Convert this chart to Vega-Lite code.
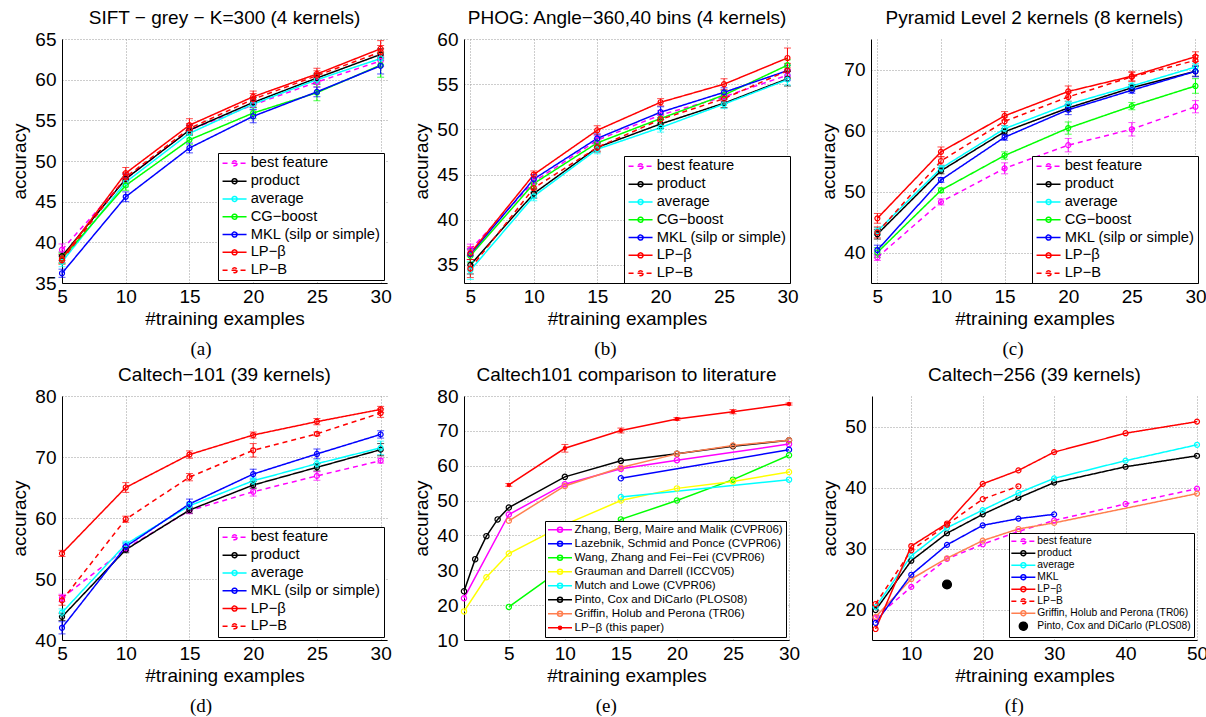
{
"$schema": "https://vega.github.io/schema/vega-lite/v6.json",
"padding": {"left": 10, "top": 9, "right": 2, "bottom": 2},
"datasets": {
"a": [
{"m":"best feature","x":5,"y":39.1,"e":0.7},{"m":"best feature","x":10,"y":47.8,"e":0.6},{"m":"best feature","x":15,"y":53.8,"e":0.6},{"m":"best feature","x":20,"y":56.9,"e":0.6},{"m":"best feature","x":25,"y":59.7,"e":0.6},{"m":"best feature","x":30,"y":62.3,"e":0.7},
{"m":"product","x":5,"y":38.3,"e":0.5},{"m":"product","x":10,"y":47.8,"e":0.6},{"m":"product","x":15,"y":53.8,"e":0.6},{"m":"product","x":20,"y":57.2,"e":0.6},{"m":"product","x":25,"y":60.2,"e":0.6},{"m":"product","x":30,"y":63.1,"e":0.7},
{"m":"average","x":5,"y":37.6,"e":0.6},{"m":"average","x":10,"y":47.4,"e":0.6},{"m":"average","x":15,"y":53.4,"e":0.6},{"m":"average","x":20,"y":57.0,"e":0.6},{"m":"average","x":25,"y":60.0,"e":0.6},{"m":"average","x":30,"y":62.6,"e":0.8},
{"m":"CG−boost","x":5,"y":38.0,"e":0.6},{"m":"CG−boost","x":10,"y":47.0,"e":0.6},{"m":"CG−boost","x":15,"y":52.6,"e":0.6},{"m":"CG−boost","x":20,"y":55.9,"e":0.7},{"m":"CG−boost","x":25,"y":58.4,"e":1.0},{"m":"CG−boost","x":30,"y":61.8,"e":1.5},
{"m":"MKL (silp or simple)","x":5,"y":36.2,"e":0.5},{"m":"MKL (silp or simple)","x":10,"y":45.6,"e":0.6},{"m":"MKL (silp or simple)","x":15,"y":51.6,"e":0.6},{"m":"MKL (silp or simple)","x":20,"y":55.5,"e":0.8},{"m":"MKL (silp or simple)","x":25,"y":58.5,"e":0.6},{"m":"MKL (silp or simple)","x":30,"y":61.7,"e":1.0},
{"m":"LP−B","x":5,"y":37.8,"e":0.5},{"m":"LP−B","x":10,"y":48.0,"e":0.6},{"m":"LP−B","x":15,"y":54.0,"e":0.6},{"m":"LP−B","x":20,"y":57.6,"e":0.7},{"m":"LP−B","x":25,"y":60.5,"e":0.6},{"m":"LP−B","x":30,"y":63.4,"e":0.8},
{"m":"LP−β","x":5,"y":38.0,"e":0.5},{"m":"LP−β","x":10,"y":48.5,"e":0.7},{"m":"LP−β","x":15,"y":54.4,"e":0.8},{"m":"LP−β","x":20,"y":57.9,"e":0.7},{"m":"LP−β","x":25,"y":60.7,"e":0.7},{"m":"LP−β","x":30,"y":63.8,"e":1.0}
],
"b": [
{"m":"best feature","x":5,"y":36.7,"e":0.6},{"m":"best feature","x":10,"y":44.2,"e":0.5},{"m":"best feature","x":15,"y":48.8,"e":0.5},{"m":"best feature","x":20,"y":51.6,"e":0.5},{"m":"best feature","x":25,"y":53.6,"e":0.5},{"m":"best feature","x":30,"y":56.0,"e":0.6},
{"m":"product","x":5,"y":35.0,"e":1.0},{"m":"product","x":10,"y":42.9,"e":0.5},{"m":"product","x":15,"y":48.0,"e":0.5},{"m":"product","x":20,"y":50.6,"e":0.5},{"m":"product","x":25,"y":52.9,"e":0.5},{"m":"product","x":30,"y":55.6,"e":0.8},
{"m":"average","x":5,"y":34.4,"e":1.0},{"m":"average","x":10,"y":42.6,"e":0.5},{"m":"average","x":15,"y":47.8,"e":0.5},{"m":"average","x":20,"y":50.2,"e":0.5},{"m":"average","x":25,"y":52.8,"e":0.5},{"m":"average","x":30,"y":55.5,"e":0.6},
{"m":"CG−boost","x":5,"y":36.0,"e":0.7},{"m":"CG−boost","x":10,"y":44.0,"e":0.5},{"m":"CG−boost","x":15,"y":48.5,"e":0.5},{"m":"CG−boost","x":20,"y":51.2,"e":0.5},{"m":"CG−boost","x":25,"y":53.8,"e":0.5},{"m":"CG−boost","x":30,"y":57.1,"e":0.6},
{"m":"MKL (silp or simple)","x":5,"y":36.2,"e":0.6},{"m":"MKL (silp or simple)","x":10,"y":44.5,"e":0.5},{"m":"MKL (silp or simple)","x":15,"y":49.0,"e":0.5},{"m":"MKL (silp or simple)","x":20,"y":51.9,"e":0.6},{"m":"MKL (silp or simple)","x":25,"y":54.1,"e":0.5},{"m":"MKL (silp or simple)","x":30,"y":56.5,"e":0.6},
{"m":"LP−B","x":5,"y":34.6,"e":1.0},{"m":"LP−B","x":10,"y":43.5,"e":0.5},{"m":"LP−B","x":15,"y":48.0,"e":0.4},{"m":"LP−B","x":20,"y":51.1,"e":0.5},{"m":"LP−B","x":25,"y":53.4,"e":0.5},{"m":"LP−B","x":30,"y":56.5,"e":0.8},
{"m":"LP−β","x":5,"y":36.3,"e":0.7},{"m":"LP−β","x":10,"y":45.0,"e":0.4},{"m":"LP−β","x":15,"y":49.9,"e":0.5},{"m":"LP−β","x":20,"y":53.0,"e":0.4},{"m":"LP−β","x":25,"y":55.0,"e":0.6},{"m":"LP−β","x":30,"y":57.9,"e":1.1}
],
"c": [
{"m":"best feature","x":5,"y":39.2,"e":0.5},{"m":"best feature","x":10,"y":48.3,"e":0.5},{"m":"best feature","x":15,"y":53.8,"e":0.9},{"m":"best feature","x":20,"y":57.6,"e":1.1},{"m":"best feature","x":25,"y":60.2,"e":1.1},{"m":"best feature","x":30,"y":63.9,"e":1.0},
{"m":"product","x":5,"y":43.0,"e":0.8},{"m":"product","x":10,"y":53.4,"e":0.5},{"m":"product","x":15,"y":59.8,"e":0.5},{"m":"product","x":20,"y":63.7,"e":0.6},{"m":"product","x":25,"y":67.0,"e":0.5},{"m":"product","x":30,"y":69.7,"e":0.8},
{"m":"average","x":5,"y":43.5,"e":0.6},{"m":"average","x":10,"y":53.8,"e":0.5},{"m":"average","x":15,"y":60.3,"e":0.5},{"m":"average","x":20,"y":64.3,"e":0.5},{"m":"average","x":25,"y":67.3,"e":0.5},{"m":"average","x":30,"y":70.4,"e":0.6},
{"m":"CG−boost","x":5,"y":40.0,"e":0.8},{"m":"CG−boost","x":10,"y":50.2,"e":0.4},{"m":"CG−boost","x":15,"y":55.9,"e":0.6},{"m":"CG−boost","x":20,"y":60.4,"e":1.0},{"m":"CG−boost","x":25,"y":64.0,"e":0.6},{"m":"CG−boost","x":30,"y":67.3,"e":1.2},
{"m":"MKL (silp or simple)","x":5,"y":40.4,"e":0.8},{"m":"MKL (silp or simple)","x":10,"y":51.9,"e":0.4},{"m":"MKL (silp or simple)","x":15,"y":58.9,"e":0.5},{"m":"MKL (silp or simple)","x":20,"y":63.4,"e":0.8},{"m":"MKL (silp or simple)","x":25,"y":66.6,"e":0.5},{"m":"MKL (silp or simple)","x":30,"y":69.7,"e":0.9},
{"m":"LP−B","x":5,"y":43.3,"e":0.9},{"m":"LP−B","x":10,"y":55.0,"e":0.7},{"m":"LP−B","x":15,"y":61.5,"e":0.7},{"m":"LP−B","x":20,"y":65.5,"e":0.7},{"m":"LP−B","x":25,"y":68.8,"e":0.7},{"m":"LP−B","x":30,"y":71.5,"e":0.8},
{"m":"LP−β","x":5,"y":45.6,"e":0.8},{"m":"LP−β","x":10,"y":56.5,"e":0.8},{"m":"LP−β","x":15,"y":62.4,"e":0.7},{"m":"LP−β","x":20,"y":66.4,"e":0.9},{"m":"LP−β","x":25,"y":68.9,"e":0.8},{"m":"LP−β","x":30,"y":72.1,"e":0.8}
],
"d": [
{"m":"best feature","x":5,"y":46.9,"e":0.6},{"m":"best feature","x":10,"y":55.0,"e":0.5},{"m":"best feature","x":15,"y":61.2,"e":0.5},{"m":"best feature","x":20,"y":64.3,"e":0.7},{"m":"best feature","x":25,"y":66.9,"e":0.7},{"m":"best feature","x":30,"y":69.4,"e":0.4},
{"m":"product","x":5,"y":43.8,"e":0.6},{"m":"product","x":10,"y":54.8,"e":0.5},{"m":"product","x":15,"y":61.3,"e":0.5},{"m":"product","x":20,"y":65.4,"e":0.6},{"m":"product","x":25,"y":68.3,"e":0.6},{"m":"product","x":30,"y":71.2,"e":1.0},
{"m":"average","x":5,"y":44.5,"e":0.6},{"m":"average","x":10,"y":55.7,"e":0.5},{"m":"average","x":15,"y":62.0,"e":0.6},{"m":"average","x":20,"y":66.1,"e":0.6},{"m":"average","x":25,"y":68.9,"e":0.6},{"m":"average","x":30,"y":71.5,"e":1.1},
{"m":"MKL (silp or simple)","x":5,"y":42.0,"e":1.0},{"m":"MKL (silp or simple)","x":10,"y":55.3,"e":0.6},{"m":"MKL (silp or simple)","x":15,"y":62.3,"e":0.8},{"m":"MKL (silp or simple)","x":20,"y":67.2,"e":0.8},{"m":"MKL (silp or simple)","x":25,"y":70.5,"e":0.8},{"m":"MKL (silp or simple)","x":30,"y":73.7,"e":0.6},
{"m":"LP−B","x":5,"y":46.5,"e":0.8},{"m":"LP−B","x":10,"y":59.8,"e":0.5},{"m":"LP−B","x":15,"y":66.7,"e":0.6},{"m":"LP−B","x":20,"y":71.1,"e":1.1},{"m":"LP−B","x":25,"y":73.8,"e":0.3},{"m":"LP−B","x":30,"y":77.2,"e":0.7},
{"m":"LP−β","x":5,"y":54.2,"e":0.5},{"m":"LP−β","x":10,"y":65.0,"e":0.8},{"m":"LP−β","x":15,"y":70.4,"e":0.6},{"m":"LP−β","x":20,"y":73.6,"e":0.5},{"m":"LP−β","x":25,"y":75.8,"e":0.5},{"m":"LP−β","x":30,"y":77.8,"e":0.5}
],
"e": [
{"m":"Zhang, Berg, Maire and Malik (CVPR06)","x":1,"y":22.0},{"m":"Zhang, Berg, Maire and Malik (CVPR06)","x":5,"y":46.0},{"m":"Zhang, Berg, Maire and Malik (CVPR06)","x":10,"y":54.7},{"m":"Zhang, Berg, Maire and Malik (CVPR06)","x":15,"y":59.1},{"m":"Zhang, Berg, Maire and Malik (CVPR06)","x":20,"y":61.6},{"m":"Zhang, Berg, Maire and Malik (CVPR06)","x":30,"y":66.2},
{"m":"Lazebnik, Schmid and Ponce (CVPR06)","x":15,"y":56.4},{"m":"Lazebnik, Schmid and Ponce (CVPR06)","x":30,"y":64.6},
{"m":"Wang, Zhang and Fei−Fei (CVPR06)","x":5,"y":19.5},{"m":"Wang, Zhang and Fei−Fei (CVPR06)","x":10,"y":31.0},{"m":"Wang, Zhang and Fei−Fei (CVPR06)","x":15,"y":44.6},{"m":"Wang, Zhang and Fei−Fei (CVPR06)","x":20,"y":50.0},{"m":"Wang, Zhang and Fei−Fei (CVPR06)","x":25,"y":56.0},{"m":"Wang, Zhang and Fei−Fei (CVPR06)","x":30,"y":63.0},
{"m":"Grauman and Darrell (ICCV05)","x":1,"y":18.2},{"m":"Grauman and Darrell (ICCV05)","x":3,"y":28.0},{"m":"Grauman and Darrell (ICCV05)","x":5,"y":34.8},{"m":"Grauman and Darrell (ICCV05)","x":10,"y":43.1},{"m":"Grauman and Darrell (ICCV05)","x":15,"y":50.0},{"m":"Grauman and Darrell (ICCV05)","x":20,"y":53.5},{"m":"Grauman and Darrell (ICCV05)","x":25,"y":55.5},{"m":"Grauman and Darrell (ICCV05)","x":30,"y":58.2},
{"m":"Mutch and Lowe (CVPR06)","x":15,"y":51.0},{"m":"Mutch and Lowe (CVPR06)","x":30,"y":56.0},
{"m":"Pinto, Cox and DiCarlo (PLOS08)","x":1,"y":24.0},{"m":"Pinto, Cox and DiCarlo (PLOS08)","x":2,"y":33.2},{"m":"Pinto, Cox and DiCarlo (PLOS08)","x":3,"y":39.8},{"m":"Pinto, Cox and DiCarlo (PLOS08)","x":4,"y":44.6},{"m":"Pinto, Cox and DiCarlo (PLOS08)","x":5,"y":48.0},{"m":"Pinto, Cox and DiCarlo (PLOS08)","x":10,"y":56.8},{"m":"Pinto, Cox and DiCarlo (PLOS08)","x":15,"y":61.4},{"m":"Pinto, Cox and DiCarlo (PLOS08)","x":20,"y":63.4},{"m":"Pinto, Cox and DiCarlo (PLOS08)","x":25,"y":65.6},{"m":"Pinto, Cox and DiCarlo (PLOS08)","x":30,"y":67.3},
{"m":"Griffin, Holub and Perona (TR06)","x":5,"y":44.2},{"m":"Griffin, Holub and Perona (TR06)","x":10,"y":54.2},{"m":"Griffin, Holub and Perona (TR06)","x":15,"y":59.5},{"m":"Griffin, Holub and Perona (TR06)","x":20,"y":63.4},{"m":"Griffin, Holub and Perona (TR06)","x":25,"y":65.8},{"m":"Griffin, Holub and Perona (TR06)","x":30,"y":67.3},
{"m":"LP−β (this paper)","x":5,"y":54.5,"e":0.4},{"m":"LP−β (this paper)","x":10,"y":65.0,"e":1.1},{"m":"LP−β (this paper)","x":15,"y":70.1,"e":0.7},{"m":"LP−β (this paper)","x":20,"y":73.4,"e":0.4},{"m":"LP−β (this paper)","x":25,"y":75.5,"e":0.6},{"m":"LP−β (this paper)","x":30,"y":77.7,"e":0.3}
],
"f": [
{"m":"best feature","x":5,"y":18.6},{"m":"best feature","x":10,"y":23.7},{"m":"best feature","x":15,"y":28.3},{"m":"best feature","x":20,"y":30.7},{"m":"best feature","x":25,"y":32.8},{"m":"best feature","x":30,"y":34.6},{"m":"best feature","x":40,"y":37.3},{"m":"best feature","x":50,"y":39.8},
{"m":"Griffin, Holub and Perona (TR06)","x":5,"y":18.8},{"m":"Griffin, Holub and Perona (TR06)","x":10,"y":25.0},{"m":"Griffin, Holub and Perona (TR06)","x":15,"y":28.4},{"m":"Griffin, Holub and Perona (TR06)","x":20,"y":31.3},{"m":"Griffin, Holub and Perona (TR06)","x":25,"y":33.2},{"m":"Griffin, Holub and Perona (TR06)","x":30,"y":34.2},{"m":"Griffin, Holub and Perona (TR06)","x":50,"y":39.0},
{"m":"product","x":5,"y":19.9},{"m":"product","x":10,"y":28.0},{"m":"product","x":15,"y":32.5},{"m":"product","x":20,"y":35.6},{"m":"product","x":25,"y":38.3},{"m":"product","x":30,"y":40.8},{"m":"product","x":40,"y":43.4},{"m":"product","x":50,"y":45.2},
{"m":"average","x":5,"y":20.4},{"m":"average","x":10,"y":28.8},{"m":"average","x":15,"y":33.4},{"m":"average","x":20,"y":36.3},{"m":"average","x":25,"y":39.1},{"m":"average","x":30,"y":41.5},{"m":"average","x":40,"y":44.4},{"m":"average","x":50,"y":47.0},
{"m":"MKL","x":5,"y":17.8},{"m":"MKL","x":10,"y":25.7},{"m":"MKL","x":15,"y":30.6},{"m":"MKL","x":20,"y":33.8},{"m":"MKL","x":25,"y":34.9},{"m":"MKL","x":30,"y":35.6},
{"m":"LP−B","x":5,"y":20.9},{"m":"LP−B","x":10,"y":29.7},{"m":"LP−B","x":15,"y":33.9},{"m":"LP−B","x":20,"y":38.1},{"m":"LP−B","x":25,"y":40.2},
{"m":"LP−β","x":5,"y":16.8},{"m":"LP−β","x":10,"y":30.4},{"m":"LP−β","x":15,"y":34.1},{"m":"LP−β","x":20,"y":40.6},{"m":"LP−β","x":25,"y":42.8},{"m":"LP−β","x":30,"y":45.8},{"m":"LP−β","x":40,"y":48.9},{"m":"LP−β","x":50,"y":50.8},
{"m":"Pinto, Cox and DiCarlo (PLOS08)","x":15,"y":24.1}
]
},
"spacing": 7,
"resolve": {"scale": {"color": "independent", "strokeDash": "independent"}, "legend": {"color": "independent", "strokeDash": "independent"}},
"vconcat": [
{
"spacing": 20,
"resolve": {"scale": {"color": "independent", "strokeDash": "independent"}, "legend": {"color": "independent", "strokeDash": "independent"}},
"hconcat": [
{
"title": {"text": "(a)", "orient": "bottom", "anchor": "middle", "font": "Liberation Serif", "fontSize": 19, "offset": 12},
"resolve": {"scale": {"color": "independent", "strokeDash": "independent"}, "legend": {"color": "independent", "strokeDash": "independent"}},
"vconcat": [
{
"title": {"text": "SIFT − grey − K=300 (4 kernels)", "frame": "group", "offset": 2},
"width": 325, "height": 244,
"data": {"name": "a"},
"encoding": {
"x": {"field": "x", "type": "quantitative", "scale": {"domain": [5, 30.5], "nice": false, "zero": false}, "axis": {"values": [5,10,15,20,25,30], "title": "#training examples"}},
"y": {"field": "y", "type": "quantitative", "scale": {"domain": [35, 65], "nice": false, "zero": false}, "axis": {"values": [35,40,45,50,55,60,65], "title": "accuracy"}}
},
"layer": [
{"mark": {"type": "line", "strokeWidth": 1.5}, "encoding": {
"color": {"field": "m", "type": "nominal", "scale": {"domain": ["best feature","product","average","CG−boost","MKL (silp or simple)","LP−β","LP−B"], "range": ["#ff00ff","#000000","#00ffff","#00ff00","#0000ff","#ff0000","#ff0000"]},
"legend": {"title": null, "orient": "bottom-right", "offset": 3, "labelFontSize": 14.7, "rowPadding": 1.8, "padding": 3, "strokeColor": "black", "fillColor": "white", "symbolType": "M-2.9,0L9.1,0M4.35,0A1.25,1.25,0,1,1,1.85,0A1.25,1.25,0,1,1,4.35,0", "symbolSize": 16, "symbolStrokeWidth": 1.5, "labelOffset": 15, "labelLimit": 400, "encode": {"symbols": {"update": {"fill": {"value": "transparent"}, "shape": {"value": "M-2.9,0L9.1,0M4.35,0A1.25,1.25,0,1,1,1.85,0A1.25,1.25,0,1,1,4.35,0"}}}}}},
"strokeDash": {"field": "m", "type": "nominal", "scale": {"domain": ["best feature","product","average","CG−boost","MKL (silp or simple)","LP−β","LP−B"], "range": [[5,4],[1,0],[1,0],[1,0],[1,0],[1,0],[5,4]]},
"legend": {"title": null, "orient": "bottom-right", "offset": 3, "labelFontSize": 14.7, "rowPadding": 1.8, "padding": 3, "strokeColor": "black", "fillColor": "white", "symbolType": "M-2.9,0L9.1,0M4.35,0A1.25,1.25,0,1,1,1.85,0A1.25,1.25,0,1,1,4.35,0", "symbolSize": 16, "symbolStrokeWidth": 1.5, "labelOffset": 15, "labelLimit": 400, "encode": {"symbols": {"update": {"fill": {"value": "transparent"}, "shape": {"value": "M-2.9,0L9.1,0M4.35,0A1.25,1.25,0,1,1,1.85,0A1.25,1.25,0,1,1,4.35,0"}}}}}}}},
{"mark": {"type": "errorbar", "ticks": {"size": 7}}, "encoding": {"yError": {"field": "e"}, "color": {"condition": [{"test": "datum.m === 'best feature'", "value": "#ff00ff"}, {"test": "datum.m === 'product'", "value": "#000000"}, {"test": "datum.m === 'average'", "value": "#00ffff"}, {"test": "datum.m === 'CG−boost'", "value": "#00ff00"}, {"test": "datum.m === 'MKL (silp or simple)'", "value": "#0000ff"}], "value": "#ff0000"}}},
{"mark": {"type": "point", "shape": "circle", "filled": false, "size": 25, "strokeWidth": 1.2, "opacity": 1}, "encoding": {"color": {"field": "m", "type": "nominal", "legend": null}}}
]
}
]
},
{
"title": {"text": "(b)", "orient": "bottom", "anchor": "middle", "font": "Liberation Serif", "fontSize": 19, "offset": 12},
"resolve": {"scale": {"color": "independent", "strokeDash": "independent"}, "legend": {"color": "independent", "strokeDash": "independent"}},
"vconcat": [
{
"title": {"text": "PHOG: Angle−360,40 bins (4 kernels)", "frame": "group", "offset": 2},
"width": 326, "height": 244,
"data": {"name": "b"},
"encoding": {
"x": {"field": "x", "type": "quantitative", "scale": {"domain": [4.5, 30.2], "nice": false, "zero": false}, "axis": {"values": [5,10,15,20,25,30], "title": "#training examples"}},
"y": {"field": "y", "type": "quantitative", "scale": {"domain": [33, 60], "nice": false, "zero": false}, "axis": {"values": [35,40,45,50,55,60], "title": "accuracy"}}
},
"layer": [
{"mark": {"type": "line", "strokeWidth": 1.5}, "encoding": {
"color": {"field": "m", "type": "nominal", "scale": {"domain": ["best feature","product","average","CG−boost","MKL (silp or simple)","LP−β","LP−B"], "range": ["#ff00ff","#000000","#00ffff","#00ff00","#0000ff","#ff0000","#ff0000"]},
"legend": {"title": null, "orient": "bottom-right", "offset": 0, "labelFontSize": 14.7, "rowPadding": 1.8, "padding": 3, "strokeColor": "black", "fillColor": "white", "symbolType": "M-2.9,0L9.1,0M4.35,0A1.25,1.25,0,1,1,1.85,0A1.25,1.25,0,1,1,4.35,0", "symbolSize": 16, "symbolStrokeWidth": 1.5, "labelOffset": 15, "labelLimit": 400, "encode": {"symbols": {"update": {"fill": {"value": "transparent"}, "shape": {"value": "M-2.9,0L9.1,0M4.35,0A1.25,1.25,0,1,1,1.85,0A1.25,1.25,0,1,1,4.35,0"}}}}}},
"strokeDash": {"field": "m", "type": "nominal", "scale": {"domain": ["best feature","product","average","CG−boost","MKL (silp or simple)","LP−β","LP−B"], "range": [[5,4],[1,0],[1,0],[1,0],[1,0],[1,0],[5,4]]},
"legend": {"title": null, "orient": "bottom-right", "offset": 0, "labelFontSize": 14.7, "rowPadding": 1.8, "padding": 3, "strokeColor": "black", "fillColor": "white", "symbolType": "M-2.9,0L9.1,0M4.35,0A1.25,1.25,0,1,1,1.85,0A1.25,1.25,0,1,1,4.35,0", "symbolSize": 16, "symbolStrokeWidth": 1.5, "labelOffset": 15, "labelLimit": 400, "encode": {"symbols": {"update": {"fill": {"value": "transparent"}, "shape": {"value": "M-2.9,0L9.1,0M4.35,0A1.25,1.25,0,1,1,1.85,0A1.25,1.25,0,1,1,4.35,0"}}}}}}}},
{"mark": {"type": "errorbar", "ticks": {"size": 7}}, "encoding": {"yError": {"field": "e"}, "color": {"condition": [{"test": "datum.m === 'best feature'", "value": "#ff00ff"}, {"test": "datum.m === 'product'", "value": "#000000"}, {"test": "datum.m === 'average'", "value": "#00ffff"}, {"test": "datum.m === 'CG−boost'", "value": "#00ff00"}, {"test": "datum.m === 'MKL (silp or simple)'", "value": "#0000ff"}], "value": "#ff0000"}}},
{"mark": {"type": "point", "shape": "circle", "filled": false, "size": 25, "strokeWidth": 1.2, "opacity": 1}, "encoding": {"color": {"field": "m", "type": "nominal", "legend": null}}}
]
}
]
},
{
"title": {"text": "(c)", "orient": "bottom", "anchor": "middle", "font": "Liberation Serif", "fontSize": 19, "offset": 12},
"resolve": {"scale": {"color": "independent", "strokeDash": "independent"}, "legend": {"color": "independent", "strokeDash": "independent"}},
"vconcat": [
{
"title": {"text": "Pyramid Level 2 kernels (8 kernels)", "frame": "group", "offset": 11},
"width": 327, "height": 244,
"data": {"name": "c"},
"encoding": {
"x": {"field": "x", "type": "quantitative", "scale": {"domain": [4.5, 30.2], "nice": false, "zero": false}, "axis": {"values": [5,10,15,20,25,30], "title": "#training examples"}},
"y": {"field": "y", "type": "quantitative", "scale": {"domain": [35, 75], "nice": false, "zero": false}, "axis": {"values": [40,50,60,70], "title": "accuracy"}}
},
"layer": [
{"mark": {"type": "line", "strokeWidth": 1.5}, "encoding": {
"color": {"field": "m", "type": "nominal", "scale": {"domain": ["best feature","product","average","CG−boost","MKL (silp or simple)","LP−β","LP−B"], "range": ["#ff00ff","#000000","#00ffff","#00ff00","#0000ff","#ff0000","#ff0000"]},
"legend": {"title": null, "orient": "bottom-right", "offset": 0, "labelFontSize": 14.7, "rowPadding": 1.8, "padding": 3, "strokeColor": "black", "fillColor": "white", "symbolType": "M-2.9,0L9.1,0M4.35,0A1.25,1.25,0,1,1,1.85,0A1.25,1.25,0,1,1,4.35,0", "symbolSize": 16, "symbolStrokeWidth": 1.5, "labelOffset": 15, "labelLimit": 400, "encode": {"symbols": {"update": {"fill": {"value": "transparent"}, "shape": {"value": "M-2.9,0L9.1,0M4.35,0A1.25,1.25,0,1,1,1.85,0A1.25,1.25,0,1,1,4.35,0"}}}}}},
"strokeDash": {"field": "m", "type": "nominal", "scale": {"domain": ["best feature","product","average","CG−boost","MKL (silp or simple)","LP−β","LP−B"], "range": [[5,4],[1,0],[1,0],[1,0],[1,0],[1,0],[5,4]]},
"legend": {"title": null, "orient": "bottom-right", "offset": 0, "labelFontSize": 14.7, "rowPadding": 1.8, "padding": 3, "strokeColor": "black", "fillColor": "white", "symbolType": "M-2.9,0L9.1,0M4.35,0A1.25,1.25,0,1,1,1.85,0A1.25,1.25,0,1,1,4.35,0", "symbolSize": 16, "symbolStrokeWidth": 1.5, "labelOffset": 15, "labelLimit": 400, "encode": {"symbols": {"update": {"fill": {"value": "transparent"}, "shape": {"value": "M-2.9,0L9.1,0M4.35,0A1.25,1.25,0,1,1,1.85,0A1.25,1.25,0,1,1,4.35,0"}}}}}}}},
{"mark": {"type": "errorbar", "ticks": {"size": 7}}, "encoding": {"yError": {"field": "e"}, "color": {"condition": [{"test": "datum.m === 'best feature'", "value": "#ff00ff"}, {"test": "datum.m === 'product'", "value": "#000000"}, {"test": "datum.m === 'average'", "value": "#00ffff"}, {"test": "datum.m === 'CG−boost'", "value": "#00ff00"}, {"test": "datum.m === 'MKL (silp or simple)'", "value": "#0000ff"}], "value": "#ff0000"}}},
{"mark": {"type": "point", "shape": "circle", "filled": false, "size": 25, "strokeWidth": 1.2, "opacity": 1}, "encoding": {"color": {"field": "m", "type": "nominal", "legend": null}}}
]
}
]
}
]
},
{
"spacing": 20,
"resolve": {"scale": {"color": "independent", "strokeDash": "independent"}, "legend": {"color": "independent", "strokeDash": "independent"}},
"hconcat": [
{
"title": {"text": "(d)", "orient": "bottom", "anchor": "middle", "font": "Liberation Serif", "fontSize": 19, "offset": 12},
"resolve": {"scale": {"color": "independent", "strokeDash": "independent"}, "legend": {"color": "independent", "strokeDash": "independent"}},
"vconcat": [
{
"title": {"text": "Caltech−101 (39 kernels)", "frame": "group", "offset": 2},
"width": 325, "height": 244,
"data": {"name": "d"},
"encoding": {
"x": {"field": "x", "type": "quantitative", "scale": {"domain": [5, 30.5], "nice": false, "zero": false}, "axis": {"values": [5,10,15,20,25,30], "title": "#training examples"}},
"y": {"field": "y", "type": "quantitative", "scale": {"domain": [40, 80], "nice": false, "zero": false}, "axis": {"values": [40,50,60,70,80], "title": "accuracy"}}
},
"layer": [
{"mark": {"type": "line", "strokeWidth": 1.5}, "encoding": {
"color": {"field": "m", "type": "nominal", "scale": {"domain": ["best feature","product","average","MKL (silp or simple)","LP−β","LP−B"], "range": ["#ff00ff","#000000","#00ffff","#0000ff","#ff0000","#ff0000"]},
"legend": {"title": null, "orient": "bottom-right", "offset": 3, "labelFontSize": 14.7, "rowPadding": 1.8, "padding": 3, "strokeColor": "black", "fillColor": "white", "symbolType": "M-2.9,0L9.1,0M4.35,0A1.25,1.25,0,1,1,1.85,0A1.25,1.25,0,1,1,4.35,0", "symbolSize": 16, "symbolStrokeWidth": 1.5, "labelOffset": 15, "labelLimit": 400, "encode": {"symbols": {"update": {"fill": {"value": "transparent"}, "shape": {"value": "M-2.9,0L9.1,0M4.35,0A1.25,1.25,0,1,1,1.85,0A1.25,1.25,0,1,1,4.35,0"}}}}}},
"strokeDash": {"field": "m", "type": "nominal", "scale": {"domain": ["best feature","product","average","MKL (silp or simple)","LP−β","LP−B"], "range": [[5,4],[1,0],[1,0],[1,0],[1,0],[5,4]]},
"legend": {"title": null, "orient": "bottom-right", "offset": 3, "labelFontSize": 14.7, "rowPadding": 1.8, "padding": 3, "strokeColor": "black", "fillColor": "white", "symbolType": "M-2.9,0L9.1,0M4.35,0A1.25,1.25,0,1,1,1.85,0A1.25,1.25,0,1,1,4.35,0", "symbolSize": 16, "symbolStrokeWidth": 1.5, "labelOffset": 15, "labelLimit": 400, "encode": {"symbols": {"update": {"fill": {"value": "transparent"}, "shape": {"value": "M-2.9,0L9.1,0M4.35,0A1.25,1.25,0,1,1,1.85,0A1.25,1.25,0,1,1,4.35,0"}}}}}}}},
{"mark": {"type": "errorbar", "ticks": {"size": 7}}, "encoding": {"yError": {"field": "e"}, "color": {"condition": [{"test": "datum.m === 'best feature'", "value": "#ff00ff"}, {"test": "datum.m === 'product'", "value": "#000000"}, {"test": "datum.m === 'average'", "value": "#00ffff"}, {"test": "datum.m === 'MKL (silp or simple)'", "value": "#0000ff"}], "value": "#ff0000"}}},
{"mark": {"type": "point", "shape": "circle", "filled": false, "size": 25, "strokeWidth": 1.2, "opacity": 1}, "encoding": {"color": {"field": "m", "type": "nominal", "legend": null}}}
]
}
]
},
{
"title": {"text": "(e)", "orient": "bottom", "anchor": "middle", "font": "Liberation Serif", "fontSize": 19, "offset": 12},
"resolve": {"scale": {"color": "independent", "strokeDash": "independent"}, "legend": {"color": "independent", "strokeDash": "independent"}},
"vconcat": [
{
"title": {"text": "Caltech101 comparison to literature", "frame": "group", "offset": 2},
"width": 325, "height": 244,
"data": {"name": "e"},
"encoding": {
"x": {"field": "x", "type": "quantitative", "scale": {"domain": [1, 30], "nice": false, "zero": false}, "axis": {"values": [5,10,15,20,25,30], "title": "#training examples"}},
"y": {"field": "y", "type": "quantitative", "scale": {"domain": [10, 80], "nice": false, "zero": false}, "axis": {"values": [10,20,30,40,50,60,70,80], "title": "accuracy"}}
},
"layer": [
{"mark": {"type": "line", "strokeWidth": 1.5}, "encoding": {
"color": {"field": "m", "type": "nominal", "scale": {"domain": ["Zhang, Berg, Maire and Malik (CVPR06)","Lazebnik, Schmid and Ponce (CVPR06)","Wang, Zhang and Fei−Fei (CVPR06)","Grauman and Darrell (ICCV05)","Mutch and Lowe (CVPR06)","Pinto, Cox and DiCarlo (PLOS08)","Griffin, Holub and Perona (TR06)","LP−β (this paper)"], "range": ["#ff00ff","#0000ff","#00ff00","#ffff00","#00ffff","#000000","#ff7f50","#ff0000"]},
"legend": {"title": null, "orient": "bottom-right", "offset": 3, "labelFontSize": 11.6, "rowPadding": 1, "padding": 3, "strokeColor": "black", "fillColor": "white", "symbolType": "M-2.9,0L9.1,0M4.35,0A1.25,1.25,0,1,1,1.85,0A1.25,1.25,0,1,1,4.35,0", "symbolSize": 16, "symbolStrokeWidth": 1.5, "labelOffset": 15, "labelLimit": 400,
"encode": {"symbols": {"update": {"fill": {"signal": "datum.value === 'LP−β (this paper)' ? '#ff0000' : 'transparent'"}, "shape": {"signal": "datum.value === 'LP−β (this paper)' ? 'M-2.9,0L9.1,0M3.9,0A0.8,0.8,0,1,1,2.3,0A0.8,0.8,0,1,1,3.9,0' : 'M-2.9,0L9.1,0M4.35,0A1.25,1.25,0,1,1,1.85,0A1.25,1.25,0,1,1,4.35,0'"}}}}}}}},
{"transform": [{"filter": "isValid(datum.e)"}], "mark": {"type": "errorbar", "ticks": {"size": 7}, "color": "#ff0000"}, "encoding": {"yError": {"field": "e"}}},
{"mark": {"type": "point", "shape": "circle", "filled": false, "strokeWidth": 1.2, "opacity": 1},
"encoding": {"color": {"field": "m", "type": "nominal", "legend": null}, "fill": {"condition": {"test": "datum.m === 'LP−β (this paper)'", "value": "#ff0000"}, "value": "transparent"}, "size": {"condition": {"test": "datum.m === 'LP−β (this paper)'", "value": 10}, "value": 28}}}
]
}
]
},
{
"title": {"text": "(f)", "orient": "bottom", "anchor": "middle", "font": "Liberation Serif", "fontSize": 19, "offset": 12},
"resolve": {"scale": {"color": "independent", "strokeDash": "independent"}, "legend": {"color": "independent", "strokeDash": "independent"}},
"vconcat": [
{
"title": {"text": "Caltech−256 (39 kernels)", "frame": "group", "offset": 11},
"width": 325, "height": 244,
"data": {"name": "f"},
"encoding": {
"x": {"field": "x", "type": "quantitative", "scale": {"domain": [4.5, 50], "nice": false, "zero": false}, "axis": {"values": [10,20,30,40,50], "title": "#training examples"}},
"y": {"field": "y", "type": "quantitative", "scale": {"domain": [15, 55], "nice": false, "zero": false}, "axis": {"values": [20,30,40,50], "title": "accuracy"}}
},
"layer": [
{"mark": {"type": "line", "strokeWidth": 1.5}, "encoding": {
"color": {"field": "m", "type": "nominal", "scale": {"domain": ["best feature","product","average","MKL","LP−β","LP−B","Griffin, Holub and Perona (TR06)","Pinto, Cox and DiCarlo (PLOS08)"], "range": ["#ff00ff","#000000","#00ffff","#0000ff","#ff0000","#ff0000","#ff7f50","#000000"]},
"legend": {"title": null, "orient": "bottom-right", "offset": 3, "labelFontSize": 10.3, "rowPadding": 0, "padding": 3, "strokeColor": "black", "fillColor": "white", "symbolType": "M-2.9,0L9.1,0M4.35,0A1.25,1.25,0,1,1,1.85,0A1.25,1.25,0,1,1,4.35,0", "symbolSize": 16, "symbolStrokeWidth": 1.5, "labelOffset": 15, "labelLimit": 400,
"encode": {"symbols": {"update": {"fill": {"signal": "datum.value === 'Pinto, Cox and DiCarlo (PLOS08)' ? '#000000' : 'transparent'"}, "shape": {"signal": "datum.value === 'Pinto, Cox and DiCarlo (PLOS08)' ? 'M5.1,0A2,2,0,1,1,1.1,0A2,2,0,1,1,5.1,0' : 'M-2.9,0L9.1,0M4.35,0A1.25,1.25,0,1,1,1.85,0A1.25,1.25,0,1,1,4.35,0'"}}}}}},
"strokeDash": {"field": "m", "type": "nominal", "scale": {"domain": ["best feature","product","average","MKL","LP−β","LP−B","Griffin, Holub and Perona (TR06)","Pinto, Cox and DiCarlo (PLOS08)"], "range": [[5,4],[1,0],[1,0],[1,0],[1,0],[5,4],[1,0],[1,0]]},
"legend": {"title": null, "orient": "bottom-right", "offset": 3, "labelFontSize": 10.3, "rowPadding": 0, "padding": 3, "strokeColor": "black", "fillColor": "white", "symbolType": "M-2.9,0L9.1,0M4.35,0A1.25,1.25,0,1,1,1.85,0A1.25,1.25,0,1,1,4.35,0", "symbolSize": 16, "symbolStrokeWidth": 1.5, "labelOffset": 15, "labelLimit": 400,
"encode": {"symbols": {"update": {"fill": {"signal": "datum.value === 'Pinto, Cox and DiCarlo (PLOS08)' ? '#000000' : 'transparent'"}, "shape": {"signal": "datum.value === 'Pinto, Cox and DiCarlo (PLOS08)' ? 'M5.1,0A2,2,0,1,1,1.1,0A2,2,0,1,1,5.1,0' : 'M-2.9,0L9.1,0M4.35,0A1.25,1.25,0,1,1,1.85,0A1.25,1.25,0,1,1,4.35,0'"}}}}}}}},
{"mark": {"type": "point", "shape": "circle", "filled": false, "strokeWidth": 1.2, "opacity": 1},
"encoding": {"color": {"field": "m", "type": "nominal", "legend": null}, "fill": {"condition": {"test": "datum.m === 'Pinto, Cox and DiCarlo (PLOS08)'", "value": "#000000"}, "value": "transparent"}, "size": {"condition": {"test": "datum.m === 'Pinto, Cox and DiCarlo (PLOS08)'", "value": 80}, "value": 25}}}
]
}
]
}
]
}
],
"config": {
"font": "Liberation Sans",
"view": {"stroke": null},
"axis": {"domainColor": "black", "domainWidth": 1, "labelColor": "black", "titleColor": "black", "labelFontSize": 19, "titleFontSize": 19, "titleFontWeight": "normal", "gridColor": "#9a9a9a", "gridDash": [1, 2], "gridWidth": 1, "ticks": false, "tickSize": 0, "labelFlush": false, "labelOverlap": false, "labelBound": false},
"axisX": {"labelPadding": 4, "titlePadding": 3},
"axisY": {"labelPadding": 6, "titlePadding": 5},
"title": {"fontSize": 19, "fontWeight": "normal", "color": "black"},
"legend": {"labelColor": "black"}
}
}
